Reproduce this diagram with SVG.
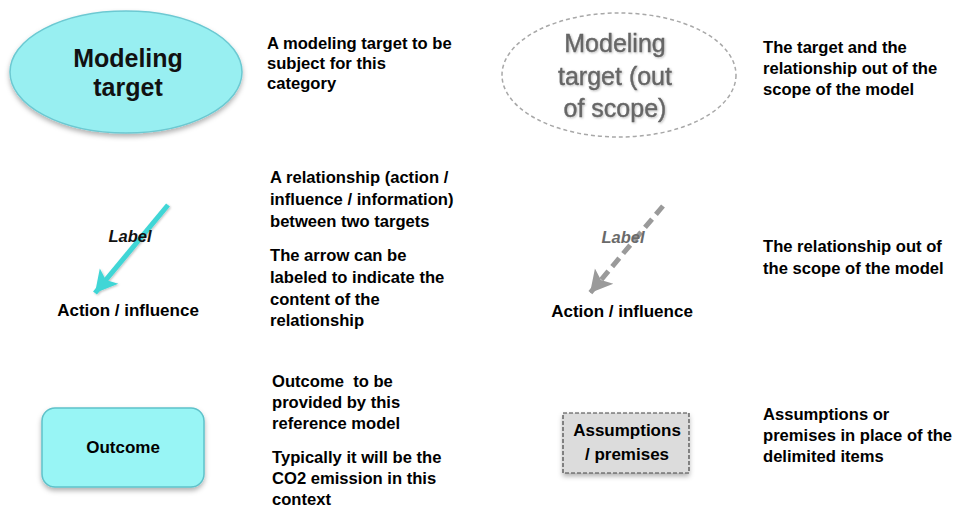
<svg xmlns="http://www.w3.org/2000/svg" width="958" height="523" viewBox="0 0 958 523">
<style>
  .t{font-family:"Liberation Sans",Arial,sans-serif;font-weight:bold;font-size:16.6px;fill:#000}
  .big{font-family:"Liberation Sans",Arial,sans-serif;font-weight:bold;font-size:25px;fill:#111;text-anchor:middle}
  .gbig{font-family:"Liberation Sans",Arial,sans-serif;font-size:25px;fill:#666;text-anchor:middle;stroke:#666;stroke-width:0.4}
  .lbl{font-family:"Liberation Sans",Arial,sans-serif;font-weight:bold;font-style:italic;font-size:16.5px;text-anchor:middle}
  .mid{font-family:"Liberation Sans",Arial,sans-serif;font-weight:bold;font-size:17px;fill:#000;text-anchor:middle}
</style>
<defs>
  <filter id="sh" x="-20%" y="-20%" width="140%" height="150%">
    <feDropShadow dx="0" dy="3" stdDeviation="2.5" flood-color="#000" flood-opacity="0.3"/>
  </filter>
  <filter id="tsh" x="-10%" y="-10%" width="120%" height="130%">
    <feDropShadow dx="1" dy="1" stdDeviation="0.8" flood-color="#000" flood-opacity="0.25"/>
  </filter>
  <marker id="ahc" markerUnits="userSpaceOnUse" markerWidth="26" markerHeight="26" refX="22" refY="13" orient="auto">
    <path d="M0,1 L22,13 L0,25 L5,13 Z" fill="#3fd6d6"/>
  </marker>
  <marker id="ahg" markerUnits="userSpaceOnUse" markerWidth="26" markerHeight="26" refX="22" refY="13" orient="auto">
    <path d="M0,1 L22,13 L0,25 L5,13 Z" fill="#9a9a9a"/>
  </marker>
</defs>
<rect width="958" height="523" fill="#fff"/>

<g id="connectors">
  <line x1="168" y1="205" x2="95" y2="293" stroke="#3fd6d6" stroke-width="5" marker-end="url(#ahc)" filter="url(#tsh)"/>
  <line x1="663" y1="206" x2="590" y2="293" stroke="#9a9a9a" stroke-width="5" stroke-dasharray="11 6" marker-end="url(#ahg)"/>
</g>

<g id="modeling-target">
  <ellipse cx="126" cy="72" rx="116" ry="61" fill="#98eff1" stroke="#6cc9d2" stroke-width="1.5" filter="url(#sh)"/>
  <text class="big" x="128" y="67">Modeling</text>
  <text class="big" x="128" y="96">target</text>
</g>
<g id="desc-target">
  <text class="t" x="267" y="49">A modeling target to be</text>
  <text class="t" x="267" y="69">subject for this</text>
  <text class="t" x="267" y="89">category</text>
</g>

<g id="out-of-scope-target">
  <ellipse cx="619" cy="75" rx="117" ry="62" fill="#fff" stroke="#a8a8a8" stroke-width="1.5" stroke-dasharray="4 3"/>
  <g filter="url(#tsh)">
    <text class="gbig" x="615" y="52">Modeling</text>
    <text class="gbig" x="615" y="85">target (out</text>
    <text class="gbig" x="615" y="117">of scope)</text>
  </g>
</g>
<g id="desc-out-target">
  <text class="t" x="763" y="53">The target and the</text>
  <text class="t" x="763" y="74">relationship out of the</text>
  <text class="t" x="763" y="95">scope of the model</text>
</g>

<g id="relationship">
  <text class="lbl" x="130" y="242" fill="#111">Label</text>
  <text class="mid" x="128" y="316">Action / influence</text>
</g>
<g id="desc-relationship">
  <text class="t" x="270" y="183">A relationship (action /</text>
  <text class="t" x="270" y="205">influence / information)</text>
  <text class="t" x="270" y="227">between two targets</text>
  <text class="t" x="270" y="261">The arrow can be</text>
  <text class="t" x="270" y="283">labeled to indicate the</text>
  <text class="t" x="270" y="305">content of the</text>
  <text class="t" x="270" y="326">relationship</text>
</g>

<g id="out-of-scope-relationship">
  <text class="lbl" x="623" y="243" fill="#6a6a6a">Label</text>
  <text class="mid" x="622" y="317">Action / influence</text>
</g>
<g id="desc-out-relationship">
  <text class="t" x="763" y="252">The relationship out of</text>
  <text class="t" x="763" y="274">the scope of the model</text>
</g>

<g id="outcome">
  <rect x="42" y="408" width="162" height="79" rx="13" fill="#98f5f5" stroke="#5ec2ca" stroke-width="1.5" filter="url(#sh)"/>
  <text class="mid" x="123" y="453" font-size="16.5">Outcome</text>
</g>
<g id="desc-outcome">
  <text class="t" x="272" y="387" xml:space="preserve">Outcome  to be</text>
  <text class="t" x="272" y="408">provided by this</text>
  <text class="t" x="272" y="429">reference model</text>
  <text class="t" x="272" y="463">Typically it will be the</text>
  <text class="t" x="272" y="484">CO2 emission in this</text>
  <text class="t" x="272" y="505">context</text>
</g>

<g id="assumptions">
  <rect x="563" y="413" width="126" height="60" fill="#dcdcdc" stroke="#444" stroke-width="1.2" stroke-dasharray="4 2" filter="url(#sh)"/>
  <text class="mid" x="627" y="436" font-size="15.5">Assumptions</text>
  <text class="mid" x="627" y="460" font-size="15.5">/ premises</text>
</g>
<g id="desc-assumptions">
  <text class="t" x="763" y="420">Assumptions or</text>
  <text class="t" x="763" y="441">premises in place of the</text>
  <text class="t" x="763" y="462">delimited items</text>
</g>
</svg>
